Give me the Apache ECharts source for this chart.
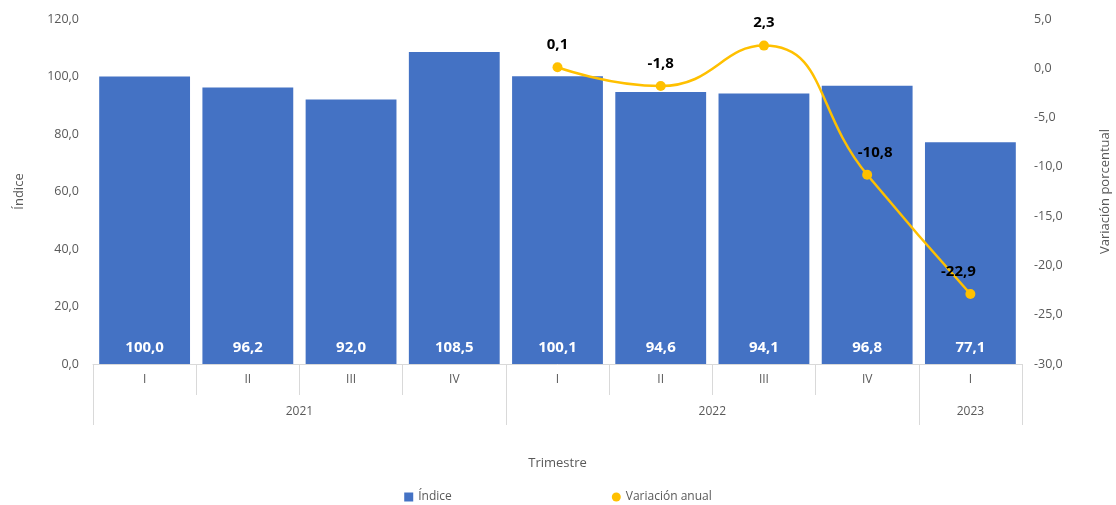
<!DOCTYPE html>
<html><head><meta charset="utf-8">
<script src="https://cdn.jsdelivr.net/npm/echarts@6/dist/echarts.min.js"></script>
<style>html,body{margin:0;padding:0;background:#fff}#c{width:1116px;height:505px}</style>
</head><body><div id="c"></div>
<script>
const quarters = ['I','II','III','IV','I','II','III','IV','I'];
const years = ['2021','2022','2023'];
const yearCenters = [2, 6, 8.5];
const yearBounds = [0, 4, 8, 9];
const indice = [100.0, 96.2, 92.0, 108.5, 100.1, 94.6, 94.1, 96.8, 77.1];
const variacion = ['-', '-', '-', '-', 0.1, -1.8, 2.3, -10.8, -22.9];

const fmt = v => v.toFixed(1).replace('.', ',');
const grey = '#595959';
const font = 'Open Sans';

const chart = echarts.init(document.getElementById('c'));
chart.setOption({
  animation: false,
  textStyle: {fontFamily: font},
  grid: {left: 93, right: 94, top: 19, bottom: 141, containLabel: false, outerBoundsMode: 'none'},
  legend: {
    top: 486, left: 'center', itemGap: 160, itemWidth: 9, itemHeight: 9,
    textStyle: {color: grey, fontSize: 12, fontFamily: font},
    data: [{name: 'Índice', icon: 'rect'}, {name: 'Variación anual', icon: 'circle'}]
  },
  xAxis: [
    {
      type: 'category', data: quarters, position: 'bottom',
      axisLine: {show: true, onZero: false, lineStyle: {color: '#d9d9d9'}},
      axisTick: {show: true, length: 31, alignWithLabel: false, lineStyle: {color: '#d9d9d9'}},
      axisLabel: {color: grey, fontSize: 12, margin: 10}
    },
    {
      type: 'value', min: 0, max: 9, position: 'bottom',
      axisLine: {show: false, onZero: false},
      splitLine: {show: false},
      axisTick: {show: true, length: 61, customValues: yearBounds, lineStyle: {color: '#d9d9d9'}},
      axisLabel: {
        color: grey, fontSize: 12, margin: 42, customValues: yearCenters,
        formatter: v => years[yearCenters.indexOf(v)] || ''
      },
      name: 'Trimestre', nameLocation: 'middle', nameGap: 93,
      nameTextStyle: {color: grey, fontSize: 13}
    }
  ],
  yAxis: [
    {
      type: 'value', min: 0, max: 120, interval: 20,
      axisLine: {show: false}, axisTick: {show: false}, splitLine: {show: false},
      axisLabel: {color: grey, fontSize: 12.5, formatter: fmt, margin: 14},
      name: 'Índice', nameLocation: 'middle', nameGap: 67, nameRotate: 90,
      nameTextStyle: {color: grey, fontSize: 13}
    },
    {
      type: 'value', min: -30, max: 5, interval: 5,
      axisLine: {show: false}, axisTick: {show: false}, splitLine: {show: false},
      axisLabel: {color: grey, fontSize: 12.5, formatter: fmt, margin: 12},
      name: 'Variación porcentual', nameLocation: 'middle', nameGap: 77, nameRotate: 90,
      nameTextStyle: {color: grey, fontSize: 13}
    }
  ],
  series: [
    {
      name: 'Índice', type: 'bar', data: indice, xAxisIndex: 0, yAxisIndex: 0,
      barCategoryGap: '12%',
      itemStyle: {color: '#4472C4'},
      label: {show: true, position: 'insideBottom', distance: 9, color: '#fff',
        fontWeight: 'bold', fontSize: 15, formatter: p => fmt(p.value)}
    },
    {
      name: 'Variación anual', type: 'line', data: variacion, xAxisIndex: 0, yAxisIndex: 1,
      smooth: 0.5, symbol: 'circle', symbolSize: 10,
      lineStyle: {color: '#FFC000', width: 2.5}, itemStyle: {color: '#FFC000'},
      label: {show: true, position: 'top', distance: 10, color: '#000',
        fontWeight: 'bold', fontSize: 15, formatter: p => fmt(p.value)},
      labelLayout: p => p.dataIndex >= 7 ? {dx: p.dataIndex === 7 ? 8 : -12} : {}
    }
  ]
});
</script></body></html>
